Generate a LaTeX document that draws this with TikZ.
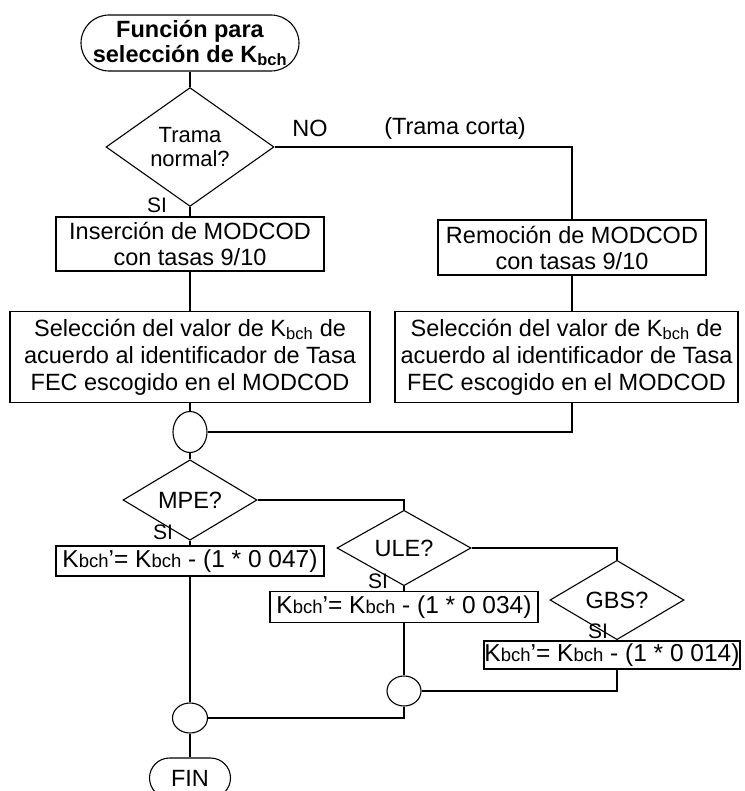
\documentclass[tikz,border=0pt]{standalone}
\usepackage{fontspec}
\setmainfont{Liberation Sans}
\usetikzlibrary{shapes.geometric}
\newcommand\Kbch{K{\fontsize{18.5}{18.5}\selectfont bch}}
\begin{document}
\begin{tikzpicture}[x=1pt,y=-1pt,
  line width=1.1pt,
  txt/.style={font=\fontsize{23.5}{26}\selectfont},
  box/.style={draw, rectangle, inner sep=0pt, align=center, txt},
  fbox/.style={box, font=\fontsize{24.5}{26}\selectfont},
  dec/.style={draw, diamond, inner sep=0pt, align=center, txt, minimum width=134pt, minimum height=44pt},
  jn/.style={draw, ellipse, inner sep=0pt, minimum width=34pt, minimum height=30pt},
  term/.style={draw, rectangle, inner sep=0pt, align=center, txt},
  lbl/.style={inner sep=0pt, txt},
  silbl/.style={inner sep=0pt, font=\fontsize{21}{22}\selectfont}
]
\useasboundingbox (0,0) rectangle (744,791);
% top
\node[term, rounded corners=28pt, minimum width=218pt, minimum height=56pt, font=\bfseries\fontsize{23.5}{25}\selectfont] (title) at (190,43) {Función para\\selección de K\textsubscript{bch}};
\node[dec, minimum width=168pt, minimum height=90pt, font=\fontsize{22}{24}\selectfont] (d1) at (190,147) {Trama\\normal?};
\node[lbl] (no) at (310,128) {NO};
\node[lbl] (corta) at (455,128) {(Trama corta)};
\node[silbl] (si1) at (157,205) {SI};
\node[box, minimum width=268pt, minimum height=54pt] (ins) at (190,244) {Inserción de MODCOD\\con tasas 9/10};
\node[box, minimum width=268pt, minimum height=55pt] (rem) at (572,247.5) {Remoción de MODCOD\\con tasas 9/10};
\node[box, minimum width=360pt, minimum height=91pt, font=\fontsize{23.5}{27}\selectfont] (sel1) at (190,357) {Selección del valor de K\textsubscript{bch} de\\acuerdo al identificador de Tasa\\FEC escogido en el MODCOD};
\node[box, minimum width=343pt, minimum height=91pt, font=\fontsize{23.5}{27}\selectfont] (sel2) at (566.5,357) {Selección del valor de K\textsubscript{bch} de\\acuerdo al identificador de Tasa\\FEC escogido en el MODCOD};
\node[jn, minimum height=41pt] (j1) at (190,432) {};
% lower
\node[dec] (mpe) at (190,500) {MPE?};
\node[silbl] (si2) at (163,532) {SI};
\node[fbox, minimum width=268pt, minimum height=30pt] (b1) at (190,561) {\Kbch’= \Kbch{} - (1 * 0 047)};
\node[dec] (ule) at (404,548) {ULE?};
\node[silbl] (si3) at (378,581) {SI};
\node[fbox, minimum width=268pt, minimum height=31pt] (b2) at (404,607) {\Kbch’= \Kbch{} - (1 * 0 034)};
\node[dec] (gbs) at (617,600) {GBS?};
\node[silbl] (si4) at (598,631) {SI};
\node[fbox, minimum width=256pt, minimum height=28pt] (b3) at (612,655) {\Kbch’= \Kbch{} - (1 * 0 014)};
\node[jn] (j2) at (404,691) {};
\node[jn, minimum width=35pt] (j3) at (190,718) {};
\node[term, rounded corners=20pt, minimum width=81pt, minimum height=40pt] (fin) at (190,778) {FIN};
% connectors
\draw (title.south) -- (d1.north);
\draw (d1.east) -| (rem.north);
\draw (d1.south) -- (ins.north);
\draw (ins.south) -- (sel1.north);
\draw (rem.south) -- (rem.south |- sel2.north);
\draw (sel1.south) -- (j1.north);
\draw (rem.south |- sel2.south) |- (j1.east);
\draw (j1.south) -- (mpe.north);
\draw (mpe.east) -| (ule.north);
\draw (ule.east) -| (gbs.north);
\draw (mpe.south) -- (b1.north);
\draw (ule.south) -- (b2.north);
\draw (gbs.south) -- (gbs.south |- b3.north);
\draw (b1.south) -- (j3.north);
\draw (b2.south) -- (j2.north);
\draw (gbs.south |- b3.south) |- (j2.east);
\draw (j2.south) |- (j3.east);
\draw (j3.south) -- (fin.north);
\end{tikzpicture}
\end{document}
